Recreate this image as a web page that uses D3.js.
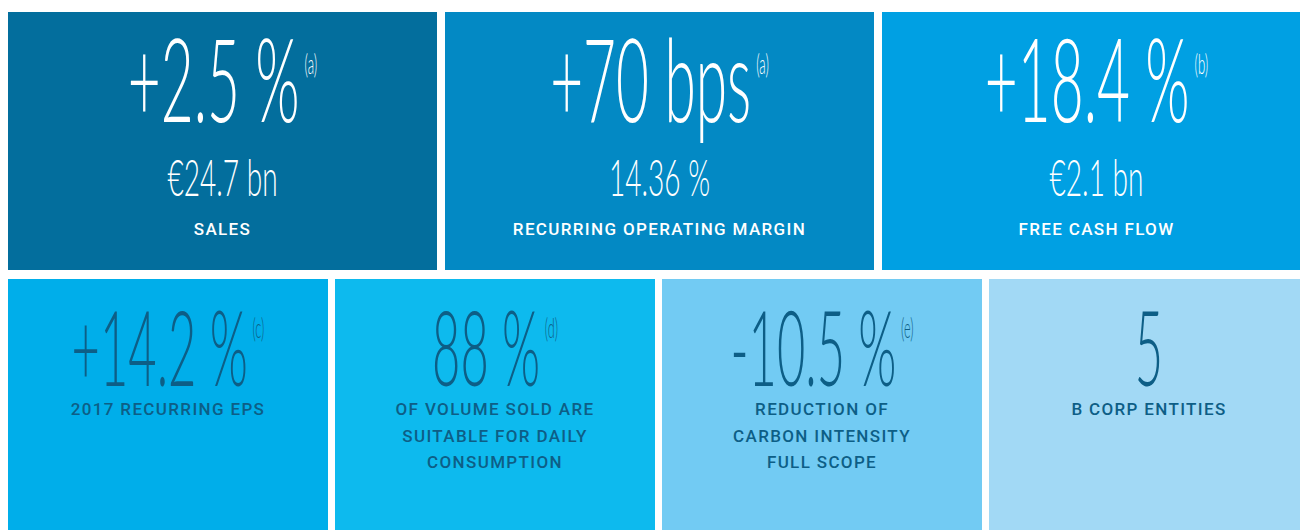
<!DOCTYPE html>
<html>
<head>
    <title>Key figures</title>
    <script src="https://d3js.org/d3.v7.min.js"></script>
    <style>
        body {
            margin: 0;
            padding: 0;
            background-color: #fff;
        }
        .big {
            font-family: 'Lato', 'Open Sans', sans-serif;
            font-weight: 300;
        }
        .label {
            font-family: 'Roboto', 'DejaVu Sans', sans-serif;
            font-weight: 500;
            font-size: 17px;
            letter-spacing: 1.35px;
        }
    </style>
</head>
<body>
    <svg id="chart" width="1300" height="530"></svg>

    <script>
        // top row: three figures with a second value
        const topValues = ["+2.5 %", "+70 bps", "+18.4 %"];
        const topNotes = ["(a)", "(a)", "(b)"];
        const topSubValues = ["€24.7 bn", "14.36 %", "€2.1 bn"];
        const topLabels = ["SALES", "RECURRING OPERATING MARGIN", "FREE CASH FLOW"];
        const topColors = ["#036e9d", "#0389c4", "#00a0e3"];

        // bottom row: four figures with multi line labels
        const bottomValues = ["+14.2 %", "88 %", "-10.5 %", "5"];
        const bottomNotes = ["(c)", "(d)", "(e)", ""];
        const bottomLabels = [
            ["2017 RECURRING EPS"],
            ["OF VOLUME SOLD ARE", "SUITABLE FOR DAILY", "CONSUMPTION"],
            ["REDUCTION OF", "CARBON INTENSITY", "FULL SCOPE"],
            ["B CORP ENTITIES"]
        ];
        const bottomColors = ["#00aeea", "#0dbaee", "#72cbf3", "#a2d9f5"];

        const darkText = "#0d5e86";
        const svg = d3.select("#chart");

        const xTop = d3.scaleBand().domain(d3.range(3)).range([8, 1311]).paddingInner(8 / 437);
        const xBottom = d3.scaleBand().domain(d3.range(4)).range([8, 1309]).paddingInner(7 / 327);
        const topY = 12, topH = 258;
        const botY = 279, botH = 260;

        function bigText(g, cx, y, value, note, size, sx, fill) {
            const t = g.append("text")
                .attr("class", "big")
                .attr("text-anchor", "middle")
                .attr("transform", "translate(" + cx + "," + y + ") scale(" + sx + ",1)")
                .attr("fill", fill)
                .style("font-size", size + "px");
            t.append("tspan").text(value);
            if (note) {
                t.append("tspan")
                    .attr("dx", 10)
                    .attr("dy", -48)
                    .style("font-size", "27px")
                    .text(note);
            }
        }

        // top row
        const topG = svg.selectAll(".top").data(d3.range(3)).join("g").attr("class", "top");
        topG.append("rect")
            .attr("x", i => xTop(i))
            .attr("y", topY)
            .attr("width", xTop.bandwidth())
            .attr("height", topH)
            .attr("fill", i => topColors[i]);
        topG.each(function(i) {
            const g = d3.select(this);
            const cx = xTop(i) + xTop.bandwidth() / 2;
            bigText(g, cx, topY + 110, topValues[i], topNotes[i], 116, 0.49, "#fff");
            bigText(g, cx, topY + 184, topSubValues[i], "", 52, 0.54, "#fff");
            g.append("text")
                .attr("class", "label")
                .attr("x", cx)
                .attr("y", topY + 223)
                .attr("text-anchor", "middle")
                .attr("fill", "#fff")
                .text(topLabels[i]);
        });

        // bottom row
        const botG = svg.selectAll(".bottom").data(d3.range(4)).join("g").attr("class", "bottom");
        botG.append("rect")
            .attr("x", i => xBottom(i))
            .attr("y", botY)
            .attr("width", xBottom.bandwidth())
            .attr("height", botH)
            .attr("fill", i => bottomColors[i]);
        botG.each(function(i) {
            const g = d3.select(this);
            const cx = xBottom(i) + xBottom.bandwidth() / 2;
            bigText(g, cx, botY + 107, bottomValues[i], bottomNotes[i], 104, 0.47, darkText);
            g.selectAll(".label").data(bottomLabels[i]).join("text")
                .attr("class", "label")
                .attr("x", cx)
                .attr("y", (d, k) => botY + 136 + k * 26.5)
                .attr("text-anchor", "middle")
                .attr("fill", darkText)
                .text(d => d);
        });
    </script>
</body>
</html>
